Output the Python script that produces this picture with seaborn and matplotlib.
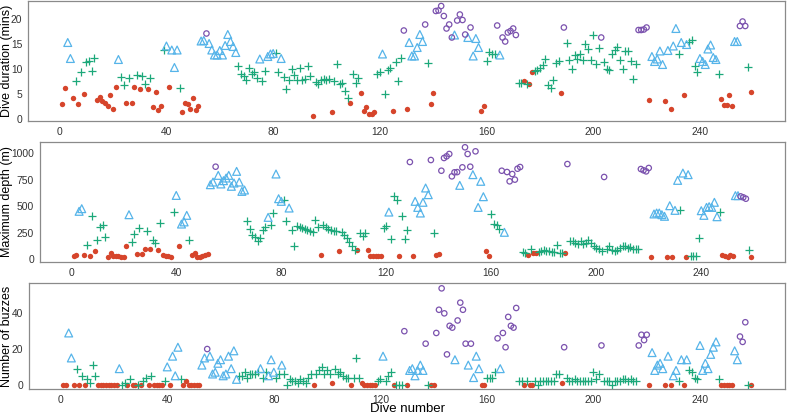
import numpy as np
import pandas as pd
import matplotlib
matplotlib.use("Agg")
import matplotlib.pyplot as plt
import seaborn as sns

# ---------------- data (one entry per dive, dives 1..259) ----------------
# R = red filled circle, G = green plus, T = blue triangle, C = purple open circle
state = list(
    "RRTTRGRGRG" "GGGRRRRRRR" "RTGGRGRRGR" "GGRGRRRRGT" "RTTTGRRRRR"
    "RRTTCTTTTT" "TTTTTTGGGG" "GGGGTGGTTT" "GGTGGGGGGG" "GGGGRGGGGG"
    "GRGGGGGGRG" "GGRRRRRRGG" "TGGGRGGGCR" "TTTTTTCGRR" "CCCCCCCTCC"
    "CCTCTTTRRG" "GGGCTCCCCC" "CGGRGRRGGG" "GGGGGGGRCG" "GGGGGGGGGG"
    "GGCGGGGGGG" "GGGGGGCCCC" "RTTTTTRTRT" "TGTRTGGGGT" "TTTTTTGRRR"
    "RRTTCCCGR"
)

duration = [
    3.1, 6.3, 15.3, 12.1, 4.2, 7.6, 3.0, 9.5, 5.1, 11.4,
    11.6, 9.7, 12.3, 3.9, 4.4, 3.6, 3.3, 2.6, 4.9, 2.1,
    6.4, 11.9, 8.5, 6.8, 3.3, 8.3, 3.3, 6.5, 8.8, 6.0,
    8.7, 7.0, 6.0, 8.3, 2.5, 5.4, 1.8, 2.6, 13.9, 14.6,
    6.4, 13.8, 10.3, 13.8, 6.3, 1.4, 3.3, 3.1, 2.1, 4.3,
    1.8, 2.6, 15.6, 15.7, 17.1, 15.1, 13.8, 12.8, 12.8, 13.7,
    12.8, 14.7, 16.9, 15.5, 14.5, 13.3, 10.7, 9.0, 8.6, 7.9,
    10.3, 9.0, 9.5, 8.3, 12.0, 7.6, 9.7, 12.5, 13.0, 13.1,
    13.3, 9.5, 12.1, 8.5, 6.1, 7.9, 10.1, 8.8, 7.8, 10.3,
    7.8, 8.0, 10.6, 8.6, 0.6, 7.5, 7.0, 7.9, 8.1, 7.9,
    8.1, 1.4, 7.6, 11.0, 7.1, 7.3, 5.7, 4.3, 3.2, 9.1,
    7.3, 8.3, 5.3, 1.7, 2.5, 1.0, 1.0, 1.4, 9.0, 9.5,
    13.0, 5.0, 9.9, 10.3, 1.6, 11.5, 7.6, 12.3, 17.7, 2.1,
    15.3, 12.6, 12.6, 14.3, 16.9, 15.5, 18.9, 11.3, 3.0, 5.3,
    21.6, 21.7, 22.6, 20.6, 18.1, 18.9, 16.3, 16.8, 19.7, 20.9,
    19.8, 16.9, 16.3, 18.3, 12.6, 16.1, 14.3, 1.7, 2.6, 11.7,
    13.5, 13.0, 13.0, 18.7, 12.8, 16.3, 15.5, 17.3, 17.6, 18.1,
    16.8, 7.3, 7.3, 7.6, 7.1, 7.0, 9.5, 9.7, 9.9, 10.3,
    10.8, 12.0, 6.8, 6.3, 7.9, 11.3, 11.7, 5.3, 18.3, 15.3,
    11.9, 10.1, 12.8, 12.1, 13.1, 11.9, 15.0, 14.1, 11.8, 16.9,
    11.0, 14.3, 16.3, 11.5, 10.1, 9.9, 13.0, 13.8, 14.5, 11.8,
    10.1, 13.7, 13.7, 11.6, 8.0, 11.1, 17.8, 17.8, 17.9, 18.3,
    3.9, 12.5, 11.5, 12.0, 13.6, 10.9, 3.7, 13.7, 2.0, 14.6,
    18.1, 13.0, 15.3, 4.9, 14.9, 15.5, 15.8, 10.6, 9.5, 12.1,
    11.5, 10.9, 14.0, 14.8, 12.3, 11.9, 9.0, 4.0, 2.9, 2.8,
    4.8, 2.6, 15.5, 15.5, 18.6, 19.5, 18.6, 10.5, 5.5,
]

max_depth = [
    25, 35, 450, 475, 35, 129, 28, 402, 79, 182,
    299, 318, 208, 19, 57, 25, 25, 25, 19, 19,
    120, 418, 157, 236, 47, 292, 50, 97, 267, 97,
    176, 148, 88, 340, 41, 31, 25, 22, 443, 600,
    126, 330, 350, 412, 176, 35, 60, 19, 19, 25,
    41, 50, 701, 726, 871, 789, 708, 739, 764, 789,
    686, 717, 827, 726, 638, 651, 355, 286, 230, 208,
    167, 198, 270, 299, 393, 324, 434, 802, 569, 544,
    560, 355, 481, 277, 120, 308, 299, 292, 286, 277,
    267, 255, 365, 299, 41, 318, 299, 286, 277, 267,
    261, 72, 255, 230, 198, 160, 120, 82, 85, 245,
    214, 245, 85, 25, 25, 25, 25, 25, 292, 314,
    443, 192, 591, 553, 25, 403, 192, 277, 915, 25,
    544, 487, 434, 535, 670, 607, 934, 245, 38, 44,
    833, 953, 969, 991, 780, 818, 820, 695, 865, 1054,
    991, 871, 796, 1016, 487, 733, 588, 72, 28, 425,
    330, 324, 286, 833, 252, 821, 733, 802, 749, 852,
    868, 66, 57, 35, 97, 57, 57, 66, 75, 85,
    72, 72, 66, 66, 129, 53, 60, 57, 896, 173,
    167, 148, 142, 173, 142, 151, 182, 148, 120, 104,
    94, 72, 774, 94, 120, 88, 72, 88, 104, 120,
    120, 104, 110, 97, 91, 91, 849, 837, 827, 859,
    19, 425, 434, 434, 418, 403, 19, 503, 19, 459,
    742, 465, 811, 19, 796, 28, 28, 28, 198, 456,
    412, 487, 494, 487, 535, 399, 443, 35, 25, 19,
    35, 25, 598, 598, 591, 582, 569, 88, 19,
]

buzzes = [
    0, 0, 29, 15, 0, 9, 0, 5, 0, 3,
    1, 11, 5, 0, 0, 0, 0, 0, 0, 0,
    0, 9, 0, 1, 0, 3, 0, 0, 0, 0,
    2, 4, 0, 5, 0, 0, 0, 0, 2, 10,
    0, 16, 5, 21, 3, 0, 2, 0, 0, 0,
    0, 0, 11, 15, 20, 16, 6, 7, 12, 14,
    5, 6, 16, 9, 19, 3, 5, 5, 7, 4,
    6, 6, 6, 7, 9, 4, 7, 5, 14, 7,
    4, 6, 11, 6, 0, 3, 2, 2, 1, 3,
    2, 1, 4, 6, 0, 6, 8, 10, 6, 8,
    6, 1, 9, 6, 7, 5, 4, 4, 0, 4,
    15, 4, 1, 0, 0, 0, 0, 0, 2, 3,
    16, 2, 5, 7, 0, 0, 0, 0, 30, 0,
    8, 9, 5, 8, 11, 8, 23, 0, 0, 0,
    29, 42, 54, 40, 17, 33, 32, 14, 36, 46,
    42, 23, 11, 23, 4, 16, 9, 0, 0, 4,
    4, 4, 7, 26, 9, 29, 21, 38, 33, 32,
    43, 2, 2, 0, 2, 0, 0, 2, 0, 2,
    2, 2, 2, 2, 2, 6, 6, 1, 21, 4,
    2, 2, 3, 2, 2, 2, 2, 2, 2, 7,
    3, 6, 22, 2, 2, 2, 0, 2, 2, 2,
    3, 3, 2, 3, 2, 2, 22, 28, 25, 28,
    0, 18, 8, 11, 12, 9, 0, 16, 0, 5,
    8, 2, 14, 0, 14, 8, 7, 4, 3, 22,
    8, 12, 9, 17, 21, 24, 3, 0, 0, 0,
    0, 0, 19, 14, 27, 24, 35, 0, 0,
]

dive = np.arange(1, len(state) + 1)

x_ticks = [0, 40, 80, 120, 160, 200, 240]
dur_ticks = [0, 5, 10, 15, 20]
depth_ticks = [0, 250, 500, 750, 1000]
buzz_ticks = [0, 20, 40]

df = pd.DataFrame({"dive": dive, "state": state, "duration": duration,
                   "depth": max_depth, "buzzes": buzzes})

RED, GREEN, BLUE, PURPLE = "#D6452B", "#1CA87A", "#56B4E9", "#7B52AE"
styles = {
    "R": dict(marker="o", color=RED, edgecolor=RED, linewidth=0, s=15),
    "G": dict(marker="+", color=GREEN, s=34, linewidth=0.9),
    "T": dict(marker="^", color=BLUE, facecolor="none", edgecolor=BLUE, s=32, linewidth=0.9),
    "C": dict(marker="o", color=PURPLE, facecolor="none", edgecolor=PURPLE, s=15, linewidth=0.9),
}

sns.set_style("white")
plt.rcParams["font.family"] = ["Liberation Sans", "DejaVu Sans"]

W, H = 787, 416
fig = plt.figure(figsize=(W / 100, H / 100), dpi=100)

def rect(l, r, t, b):
    return [l / W, 1 - b / H, (r - l) / W, (b - t) / H]

panels = [
    ("duration", "Dive duration (mins)", rect(28, 785, 1, 121), (-0.4, 23.6), dur_ticks),
    ("depth", "Maximum depth (m)", rect(40, 785, 142, 262), (-28, 1104), depth_ticks),
    ("buzzes", "Number of buzzes", rect(29, 785, 283, 389), (-2.4, 57.0), buzz_ticks),
]

for i, (col, label, pos, ylim, yt) in enumerate(panels):
    ax = fig.add_axes(pos)
    for st in ["R", "G", "T", "C"]:
        sub = df[df["state"] == st]
        sns.scatterplot(data=sub, x="dive", y=col, ax=ax, legend=False, **styles[st])
    ax.set_xlim(-11.9, 271.9)
    ax.set_ylim(*ylim)
    ax.set_xticks(x_ticks)
    ax.set_yticks(yt)
    ax.tick_params(axis="both", length=3, width=0.8, color="#7f7f7f",
                   labelcolor="#333333", labelsize=7.4, pad=1.2, direction="out")
    for sp in ax.spines.values():
        sp.set_visible(True)
        sp.set_color("#8a8a8a")
        sp.set_linewidth(0.9)
    ax.set_ylabel(label, fontsize=9, color="black")
    ax.yaxis.set_label_coords(12.6 / W, pos[1] + pos[3] / 2, transform=fig.transFigure)
    if i == 2:
        ax.set_xlabel("Dive number", fontsize=9.5, color="black")
        ax.xaxis.set_label_coords(407 / W, 0.8 / H, transform=fig.transFigure)
        ax.xaxis.label.set_va("bottom")
    else:
        ax.set_xlabel("")

fig.savefig("out.png", dpi=100)
